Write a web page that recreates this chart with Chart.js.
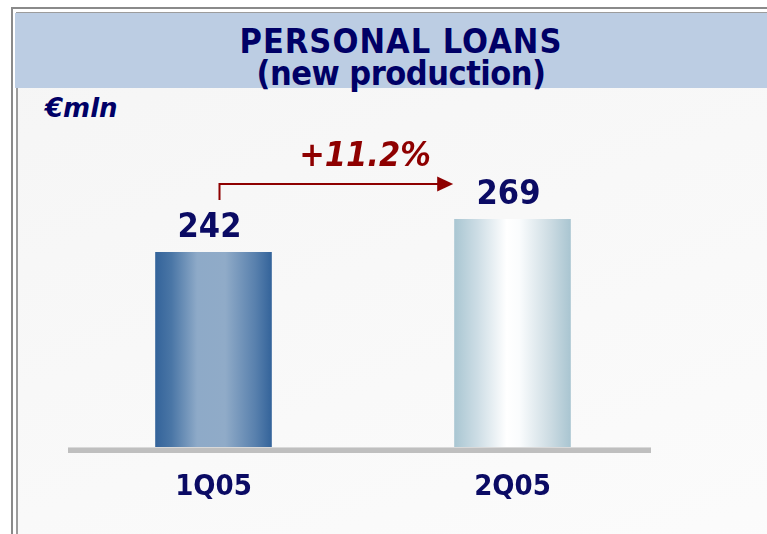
<!DOCTYPE html>
<html><head><meta charset="utf-8">
<script src="https://cdn.jsdelivr.net/npm/chart.js@4"></script>
<style>
html,body{margin:0;padding:0;background:#fff;width:767px;height:534px;overflow:hidden;font-family:"DejaVu Sans",Verdana,sans-serif;}
#outer{position:absolute;left:11px;top:7px;width:800px;height:600px;border-left:2px solid #8a8a8a;border-top:2px solid #8a8a8a;}
#inner{position:absolute;left:16px;top:12px;width:800px;height:600px;border-left:2px solid #9c9c9c;border-top:2px solid #9c9c9c;background:linear-gradient(160deg,#f5f5f5,#fcfcfc);}
#band{position:absolute;left:15px;top:13px;width:752px;height:75px;background:#bccde3;}
.t{position:absolute;left:25px;width:752px;text-align:center;color:#000066;font-family:"DejaVu Sans Condensed","DejaVu Sans",sans-serif;font-weight:bold;font-size:34px;line-height:34px;white-space:nowrap;}
#unit{position:absolute;left:45px;top:95px;color:#000066;font-weight:bold;font-style:italic;font-size:26px;line-height:26px;}
#wrap{position:absolute;left:0;top:0;width:767px;height:534px;}
</style></head>
<body>
<div id="outer"></div>
<div id="inner"></div>
<div id="band"></div>
<div class="t" style="top:24px;letter-spacing:1px">PERSONAL LOANS</div>
<div class="t" style="top:56px;letter-spacing:-0.5px">(new production)</div>
<div id="unit">€mln</div>
<div id="wrap"><canvas id="c" width="767" height="534"></canvas></div>
<script>
const categories = ['1Q05', '2Q05'];
const loans = [242, 269];
const yMin = 82.5, yMax = 350;

const navy = '#0b0b64';
const red = '#8e0000';
const cond = '"DejaVu Sans Condensed", "DejaVu Sans"';
const gradStops = [
  [[0,'#33639a'],[0.14,'#4a76a6'],[0.36,'#8eaac8'],[0.6,'#90abc8'],[0.86,'#5880ad'],[1,'#33639a']],
  [[0,'#a9c6d2'],[0.2,'#cddde5'],[0.45,'#ffffff'],[0.56,'#fafcfd'],[0.82,'#cddce3'],[1,'#a9c5d1']]
];
const barPct = 0.39;

const overlay = {
  id: 'overlay',
  beforeDatasetsDraw(chart) {
    const ctx = chart.ctx, ca = chart.chartArea;
    ctx.save();
    ctx.fillStyle = '#bfbfbf';
    ctx.fillRect(ca.left + 4, ca.bottom, ca.right - ca.left - 15, 6);
    ctx.fillStyle = '#d9d9d9';
    ctx.fillRect(ca.left + 4, ca.bottom, ca.right - ca.left - 15, 1);
    ctx.restore();
  },
  afterDatasetsDraw(chart) {
    const ctx = chart.ctx;
    const bars = chart.getDatasetMeta(0).data;
    ctx.save();
    ctx.fillStyle = navy;
    ctx.font = 'bold 34px ' + cond;
    ctx.textAlign = 'center';
    ctx.textBaseline = 'alphabetic';
    bars.forEach((b, i) => ctx.fillText(String(loans[i]), b.x - 4, b.y - 15));
    // growth arrow
    const b0 = bars[0], b1 = bars[1];
    const x0 = b0.x + 6, yStart = b0.y - 52, yArrow = b1.y - 35;
    const tip = b1.x - b1.width / 2 - 1;
    ctx.strokeStyle = red; ctx.fillStyle = red; ctx.lineWidth = 2;
    ctx.beginPath();
    ctx.moveTo(x0, yStart); ctx.lineTo(x0, yArrow); ctx.lineTo(tip - 14, yArrow);
    ctx.stroke();
    ctx.beginPath();
    ctx.moveTo(tip, yArrow); ctx.lineTo(tip - 16, yArrow - 7.5); ctx.lineTo(tip - 16, yArrow + 7.5);
    ctx.closePath(); ctx.fill();
    const pct = ((loans[1] / loans[0] - 1) * 100).toFixed(1);
    ctx.font = 'italic bold 34px ' + cond;
    ctx.fillText('+' + pct + '%', (b0.x + b1.x) / 2 + 2, yArrow - 18);
    ctx.restore();
  }
};

new Chart(document.getElementById('c'), {
  type: 'bar',
  data: {
    labels: categories,
    datasets: [{
      data: loans,
      barPercentage: barPct,
      categoryPercentage: 1,
      backgroundColor(c) {
        const chart = c.chart;
        if (!chart.chartArea) return '#6688aa';
        const xs = chart.scales.x;
        const cx = xs.getPixelForValue(c.dataIndex);
        const w = xs.width / categories.length * barPct;
        const g = chart.ctx.createLinearGradient(cx - w / 2, 0, cx + w / 2, 0);
        gradStops[c.dataIndex % 2].forEach(s => g.addColorStop(s[0], s[1]));
        return g;
      },
      borderWidth: 0
    }]
  },
  options: {
    responsive: false,
    animation: false,
    layout: { padding: { left: 64, right: 105, top: 120, bottom: 0 } },
    plugins: { legend: { display: false }, tooltip: { enabled: false } },
    scales: {
      y: { display: false, min: yMin, max: yMax },
      x: {
        grid: { display: false, drawTicks: false },
        border: { display: false },
        ticks: { color: navy, font: { family: cond, weight: 'bold', size: 29 }, padding: 23 },
        afterFit(s) { s.height = 87; }
      }
    }
  },
  plugins: [overlay]
});
</script>
</body></html>
